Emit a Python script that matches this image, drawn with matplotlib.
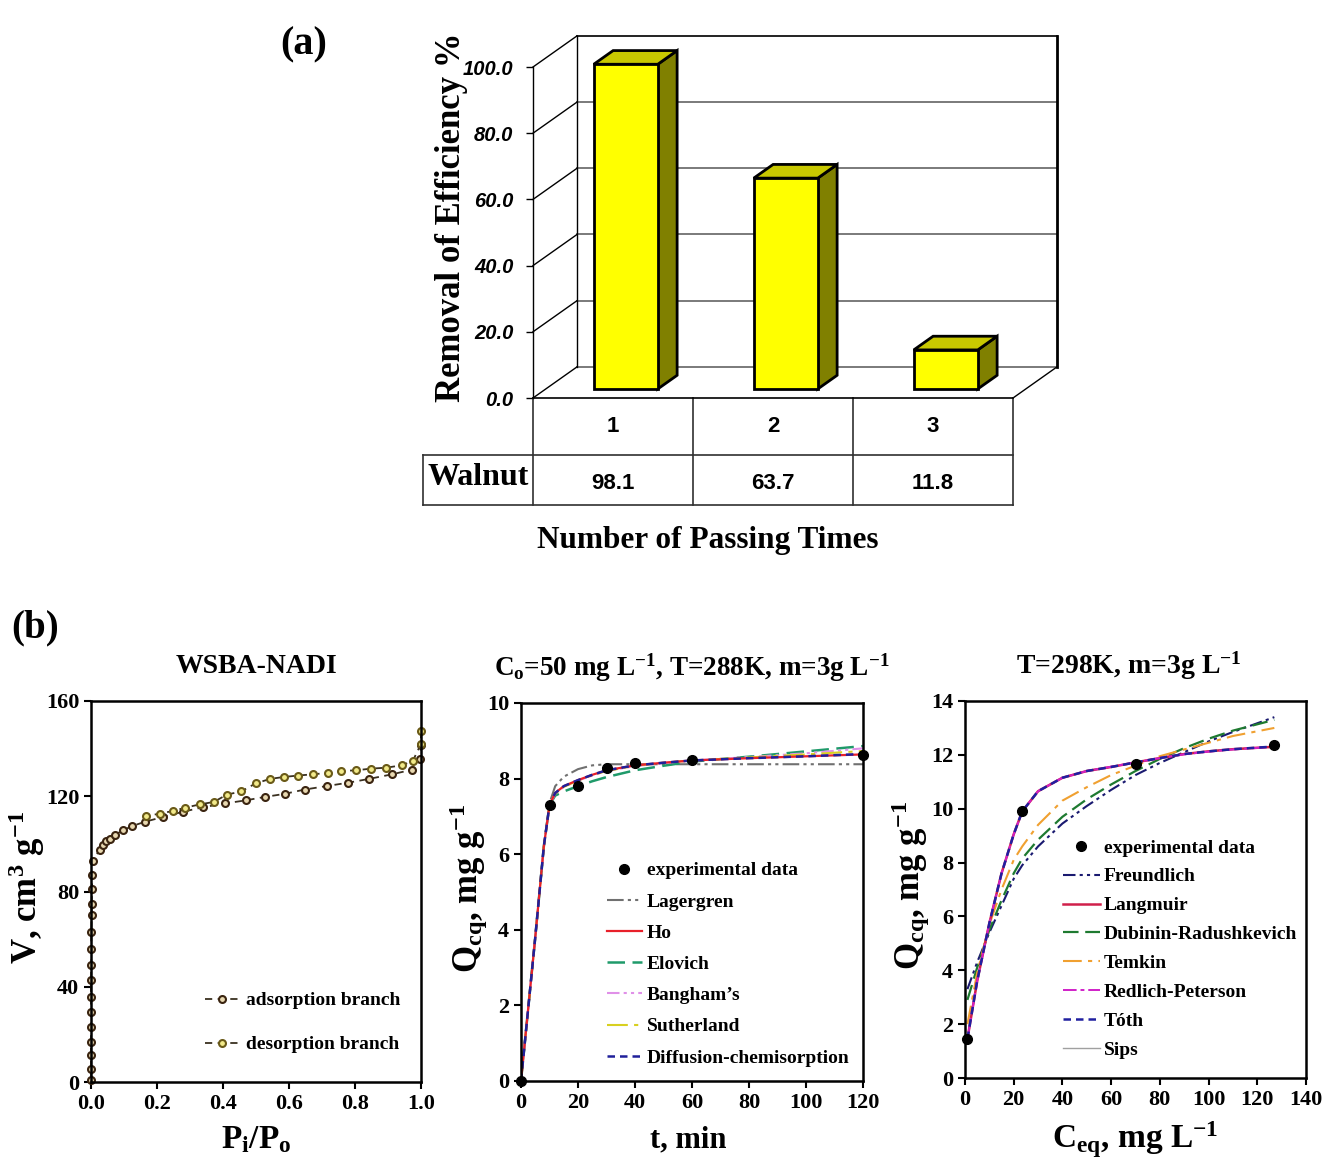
import matplotlib
matplotlib.use("Agg")
import matplotlib.pyplot as plt

plt.rcParams['font.family'] = ['Liberation Serif', 'DejaVu Serif']
plt.rcParams['font.weight'] = 'bold'
plt.rcParams['axes.titleweight'] = 'bold'
plt.rcParams['axes.linewidth'] = 1.8
plt.rcParams['mathtext.fontset'] = 'custom'
plt.rcParams['mathtext.rm'] = 'Liberation Serif:bold'
plt.rcParams['mathtext.it'] = 'Liberation Serif:italic:bold'
plt.rcParams['mathtext.bf'] = 'Liberation Serif:bold'

# ---- (a) removal efficiency per pass ----
passes = [1, 2, 3]
removal = [98.1, 63.7, 11.8]
removal_ticks = [0, 20, 40, 60, 80, 100]

# ---- (b) N2 isotherm of WSBA-NADI ----
ads_p = [0.0, 0.0, 0.0, 0.0, 0.0, 0.0, 0.0, 0.0, 0.001, 0.001, 0.001, 0.002, 0.002, 0.003, 0.004,
         0.005, 0.026, 0.036, 0.046, 0.059, 0.074, 0.097, 0.125, 0.164, 0.218, 0.279, 0.340,
         0.407, 0.470, 0.526, 0.587, 0.647, 0.715, 0.780, 0.843, 0.912, 0.974, 0.998, 1.0]
ads_v = [0.7, 5.6, 11.2, 16.8, 23.1, 29.4, 35.7, 42.7, 49.0, 56.0, 63.0, 70.0, 74.9, 81.2, 87.1,
         92.7, 97.6, 99.7, 101.0, 102.2, 103.9, 105.7, 107.5, 109.3, 111.3, 113.5, 115.4,
         117.0, 118.3, 119.7, 121.0, 122.8, 124.3, 125.7, 127.3, 129.2, 131.2, 135.8, 141.7]
des_p = [1.0, 1.0, 0.975, 0.942, 0.895, 0.848, 0.804, 0.758, 0.717, 0.672, 0.627, 0.585,
         0.543, 0.499, 0.455, 0.412, 0.372, 0.330, 0.286, 0.248, 0.208, 0.166]
des_v = [147.4, 142.0, 134.8, 133.0, 132.0, 131.6, 130.9, 130.6, 129.8, 129.2, 128.7, 128.1,
         127.3, 125.4, 122.0, 120.7, 117.6, 116.6, 115.2, 113.8, 112.7, 111.6]

# ---- (b) kinetics ----
t_exp = [0, 10, 20, 30, 40, 60, 120]
q_exp = [0, 7.3, 7.8, 8.28, 8.4, 8.49, 8.62]
t_fit = [0, 5, 8, 10, 12, 15, 20, 25, 30, 40, 50, 60, 80, 100, 120]
lagergren = [0, 3.8, 6.2, 7.35, 7.8, 8.05, 8.25, 8.35, 8.38, 8.38, 8.38, 8.38, 8.38, 8.38, 8.38]
ho = [0, 3.8, 6.2, 7.3, 7.62, 7.8, 7.96, 8.1, 8.22, 8.35, 8.42, 8.48, 8.54, 8.59, 8.64]
elovich = [0, 3.8, 6.2, 7.3, 7.55, 7.66, 7.8, 7.93, 8.04, 8.22, 8.34, 8.45, 8.58, 8.72, 8.86]
bangham = [0, 3.8, 6.2, 7.3, 7.6, 7.78, 7.95, 8.08, 8.2, 8.33, 8.41, 8.48, 8.57, 8.67, 8.8]
sutherland = [0, 3.8, 6.2, 7.3, 7.6, 7.78, 7.95, 8.09, 8.2, 8.34, 8.42, 8.48, 8.56, 8.64, 8.73]
diff_chem = [0, 3.8, 6.2, 7.3, 7.62, 7.8, 7.96, 8.1, 8.22, 8.35, 8.42, 8.48, 8.54, 8.59, 8.65]

# ---- (b) isotherms ----
c_exp = [1, 23.5, 70, 127]
qe_exp = [1.45, 9.9, 11.67, 12.35]
c_fit = [1, 5, 10, 15, 20, 23.5, 30, 40, 50, 60, 70, 80, 90, 100, 110, 127]
freundlich = [3.3, 4.3, 5.4, 6.4, 7.4, 7.9, 8.6, 9.45, 10.1, 10.7, 11.25, 11.7, 12.1, 12.5, 12.85, 13.4]
langmuir = [1.45, 3.6, 5.75, 7.6, 9.05, 9.9, 10.65, 11.15, 11.4, 11.55, 11.72, 11.88, 12.03, 12.13, 12.21, 12.3]
dub_rad = [2.9, 4.1, 5.5, 6.6, 7.6, 8.15, 8.85, 9.7, 10.35, 10.9, 11.4, 11.85, 12.25, 12.6, 12.9, 13.3]
temkin = [2.0, 3.9, 5.7, 7.0, 8.1, 8.6, 9.4, 10.3, 10.8, 11.25, 11.6, 11.95, 12.2, 12.45, 12.7, 13.0]
redlich = [1.45, 3.6, 5.75, 7.6, 9.05, 9.9, 10.65, 11.15, 11.4, 11.56, 11.72, 11.88, 12.02, 12.12, 12.2, 12.3]
toth = [1.45, 3.6, 5.75, 7.6, 9.05, 9.9, 10.65, 11.15, 11.4, 11.55, 11.72, 11.88, 12.03, 12.13, 12.21, 12.31]
sips = [1.45, 3.6, 5.75, 7.6, 9.05, 9.9, 10.65, 11.15, 11.4, 11.55, 11.72, 11.88, 12.03, 12.13, 12.21, 12.3]

W, H = 1333, 1161
fig = plt.figure(figsize=(W / 100, H / 100), dpi=100)


def px_axes(left, top, right, bottom):
    return fig.add_axes([left / W, 1 - bottom / H, (right - left) / W, (bottom - top) / H])


# ================= panel (a) =================
ax = px_axes(533, 67, 1013, 398)
ax.set_xlim(0.5, 3.5)
ax.set_ylim(0, 100)
DX, DY = 0.275, 9.4          # depth of the 3-D box in data units
f0, f1 = 0.29, 0.73          # depth range of the bars
bw = 0.2
sans = ['Liberation Sans', 'DejaVu Sans']

for y in removal_ticks:
    ax.plot([0.5 + DX, 3.5 + DX], [y + DY, y + DY], color='#111111' if y == 100 else '#707070',
            lw=1.3, clip_on=False, zorder=1)
    ax.plot([0.5, 0.5 + DX], [y, y + DY], color='black', lw=1.0, clip_on=False, zorder=1)
ax.plot([0.5 + DX] * 2, [DY, 100 + DY], color='black', lw=1.0, clip_on=False)
ax.plot([3.5 + DX] * 2, [DY, 100 + DY], color='black', lw=2.0, clip_on=False)
ax.plot([3.5, 3.5 + DX], [0, DY], color='black', lw=1.0, clip_on=False)

ddx, ddy = (f1 - f0) * DX, (f1 - f0) * DY
for i, v in zip(passes, removal):
    x0, x1 = i - bw + f0 * DX, i + bw + f0 * DX
    y0, y1 = f0 * DY, f0 * DY + v
    ax.fill([x1, x1 + ddx, x1 + ddx, x1], [y0, y0 + ddy, y1 + ddy, y1],
            facecolor='#808000', edgecolor='black', lw=2, clip_on=False, zorder=3)
    ax.fill([x0, x1, x1 + ddx, x0 + ddx], [y1, y1, y1 + ddy, y1 + ddy],
            facecolor='#c8c800', edgecolor='black', lw=2, clip_on=False, zorder=3)
    ax.fill([x0, x1, x1, x0], [y0, y0, y1, y1],
            facecolor='#ffff00', edgecolor='black', lw=2, clip_on=False, zorder=4)

for s in ['top', 'right']:
    ax.spines[s].set_visible(False)
ax.spines['left'].set_linewidth(1.0)
ax.spines['bottom'].set_linewidth(1.2)
ax.set_xticks([])
ax.set_yticks(removal_ticks)
ax.set_yticklabels(['%.1f' % y for y in removal_ticks])
ax.tick_params(axis='y', direction='out', length=5, width=1, pad=9)
for lab in ax.get_yticklabels():
    lab.set_family(sans)
    lab.set_style('italic')
    lab.set_fontweight('bold')
    lab.set_fontsize(14.5)

# data table under the chart
row1, row2, xl = -17.2, -32.3, -0.19
tcol = '#303030'
for y in (row1, row2):
    ax.plot([xl, 3.5], [y, y], color=tcol, lw=1.2, clip_on=False)
for x in (0.5, 1.5, 2.5, 3.5):
    ax.plot([x, x], [0, row2], color=tcol, lw=1.2, clip_on=False)
ax.plot([xl, xl], [row1, row2], color=tcol, lw=1.2, clip_on=False)
for i, v in zip(passes, removal):
    ax.text(i, row1 / 2, str(i), ha='center', va='center', family=sans, fontweight='bold', fontsize=16)
    ax.text(i, (row1 + row2) / 2 - 1.0, '%.1f' % v, ha='center', va='center', family=sans,
            fontweight='bold', fontsize=16)
ax.text((xl + 0.5) / 2, (row1 + row2) / 2 + 0.8, 'Walnut', ha='center', va='center', fontsize=23)
ax.text(1.59, -43, 'Number of Passing Times', ha='center', va='center', fontsize=22.5)
ax.text(-0.17, 0.545, 'Removal of Efficiency %', transform=ax.transAxes, rotation=90,
        ha='center', va='center', fontsize=25)
fig.text(304 / W, 1 - 45 / H, '(a)', ha='center', va='center', fontsize=29)
fig.text(35 / W, 1 - 628 / H, '(b)', ha='center', va='center', fontsize=28)


def style_axes(a):
    a.tick_params(direction='out', length=5, width=1.5, labelsize=16)
    for s in a.spines.values():
        s.set_linewidth(1.8)


# ================= panel (b1) =================
a1 = px_axes(91, 701, 421, 1082)
a1.plot(ads_p, ads_v, ls=(0, (4, 3)), color='#3a3020', lw=1.3, marker='o', ms=5,
        mfc='#e8d8b0', mec='#3a2410', mew=1.5, clip_on=False, label='adsorption branch')
a1.plot(des_p, des_v, ls=(0, (4, 3)), color='#3a3020', lw=1.3, marker='o', ms=5,
        mfc='#f2ea8a', mec='#6a5a18', mew=1.5, clip_on=False, label='desorption branch')
a1.set_xlim(0, 1)
a1.set_ylim(0, 160)
a1.set_xticks([0, 0.2, 0.4, 0.6, 0.8, 1.0])
a1.set_xticklabels(['0.0', '0.2', '0.4', '0.6', '0.8', '1.0'])
a1.set_yticks([0, 40, 80, 120, 160])
style_axes(a1)
a1.legend(loc='upper left', bbox_to_anchor=(0.345, 0.237), frameon=False, fontsize=14,
          numpoints=1, handlelength=1.8, handletextpad=0.3, labelspacing=1.36,
          borderpad=0, borderaxespad=0)
a1.set_title('WSBA-NADI', fontsize=20, pad=20)
a1.text(0.5, -0.152, r'P$_\mathrm{i}$/P$_\mathrm{o}$', transform=a1.transAxes,
        ha='center', va='center', fontsize=24)
a1.text(-0.195, 0.51, r'V, cm$^\mathrm{3}$ g$^{-1}$', transform=a1.transAxes, rotation=90,
        ha='center', va='center', fontsize=25)

# ================= panel (b2) =================
a2 = px_axes(521, 703, 863, 1081)
a2.plot(t_fit, lagergren, color='#707070', lw=1.5, ls=(0, (8, 2, 1.5, 2, 1.5, 2)), label='Lagergren')
a2.plot(t_fit, elovich, color='#1f9a6a', lw=1.8, ls=(0, (7, 3)), label='Elovich')
a2.plot(t_fit, bangham, color='#e090e8', lw=1.5, ls=(0, (6, 2, 1.5, 2, 1.5, 2)), label="Bangham\u2019s")
a2.plot(t_fit, sutherland, color='#d8d020', lw=1.5, ls=(0, (10, 3, 2, 3)), label='Sutherland')
a2.plot(t_fit, ho, color='#e8202a', lw=1.6, label='Ho')
a2.plot(t_fit, diff_chem, color='#20209a', lw=1.8, ls=(0, (3, 2)), label='Diffusion-chemisorption')
a2.plot(t_exp, q_exp, 'o', color='black', ms=7, clip_on=False, zorder=5, label='experimental data')
a2.set_xlim(0, 120)
a2.set_ylim(0, 10)
a2.set_xticks(range(0, 121, 20))
a2.set_yticks(range(0, 11, 2))
style_axes(a2)
h2, l2 = a2.get_legend_handles_labels()
order2 = ['experimental data', 'Lagergren', 'Ho', 'Elovich', "Bangham\u2019s", 'Sutherland',
          'Diffusion-chemisorption']
a2.legend([h2[l2.index(n)] for n in order2], order2, loc='upper left', bbox_to_anchor=(0.251, 0.58),
          frameon=False, fontsize=14, numpoints=1, handlelength=1.8, handletextpad=0.25,
          labelspacing=0.7, borderpad=0, borderaxespad=0)
a2.set_title(r'C$_\mathrm{o}$=50 mg L$^{-1}$, T=288K, m=3g L$^{-1}$', fontsize=19.5, pad=20)
a2.text(0.49, -0.156, 't, min', transform=a2.transAxes, ha='center', va='center', fontsize=22)
a2.text(-0.152, 0.51, r'Q$_\mathrm{cq}$, mg g$^{-1}$', transform=a2.transAxes, rotation=90,
        ha='center', va='center', fontsize=25)

# ================= panel (b3) =================
a3 = px_axes(965, 701, 1306, 1078)
a3.plot(c_fit, freundlich, color='#1a1a70', lw=1.5, ls=(0, (6, 2, 1.5, 2, 1.5, 2)), label='Freundlich')
a3.plot(c_fit, dub_rad, color='#1e7a30', lw=1.6, ls=(0, (7, 3)), label='Dubinin-Radushkevich')
a3.plot(c_fit, temkin, color='#f0a030', lw=1.5, ls=(0, (9, 3, 2, 3)), label='Temkin')
a3.plot(c_fit, sips, color='#a0a0a0', lw=1.0, label='Sips')
a3.plot(c_fit, langmuir, color='#d0204a', lw=1.8, label='Langmuir')
a3.plot(c_fit, redlich, color='#d020c8', lw=1.4, ls=(0, (7, 2, 2, 2)), label='Redlich-Peterson')
a3.plot(c_fit, toth, color='#2020a0', lw=1.8, ls=(0, (3, 2)), label='T\u00f3th')
a3.plot(c_exp, qe_exp, 'o', color='black', ms=7, clip_on=False, zorder=5, label='experimental data')
a3.set_xlim(0, 140)
a3.set_ylim(0, 14)
a3.set_xticks(range(0, 141, 20))
a3.set_yticks(range(0, 15, 2))
style_axes(a3)
h3, l3 = a3.get_legend_handles_labels()
order3 = ['experimental data', 'Freundlich', 'Langmuir', 'Dubinin-Radushkevich', 'Temkin',
          'Redlich-Peterson', 'T\u00f3th', 'Sips']
a3.legend([h3[l3.index(n)] for n in order3], order3, loc='upper left', bbox_to_anchor=(0.287, 0.634),
          frameon=False, fontsize=14, numpoints=1, handlelength=1.9, handletextpad=0.2,
          labelspacing=0.58, borderpad=0, borderaxespad=0)
a3.set_title(r'T=298K, m=3g L$^{-1}$', fontsize=20, pad=20, x=0.48)
a3.text(0.5, -0.164, r'C$_\mathrm{eq}$, mg L$^{-1}$', transform=a3.transAxes,
        ha='center', va='center', fontsize=24)
a3.text(-0.158, 0.51, r'Q$_\mathrm{cq}$, mg g$^{-1}$', transform=a3.transAxes, rotation=90,
        ha='center', va='center', fontsize=25)

fig.savefig('out.png', dpi=100)
